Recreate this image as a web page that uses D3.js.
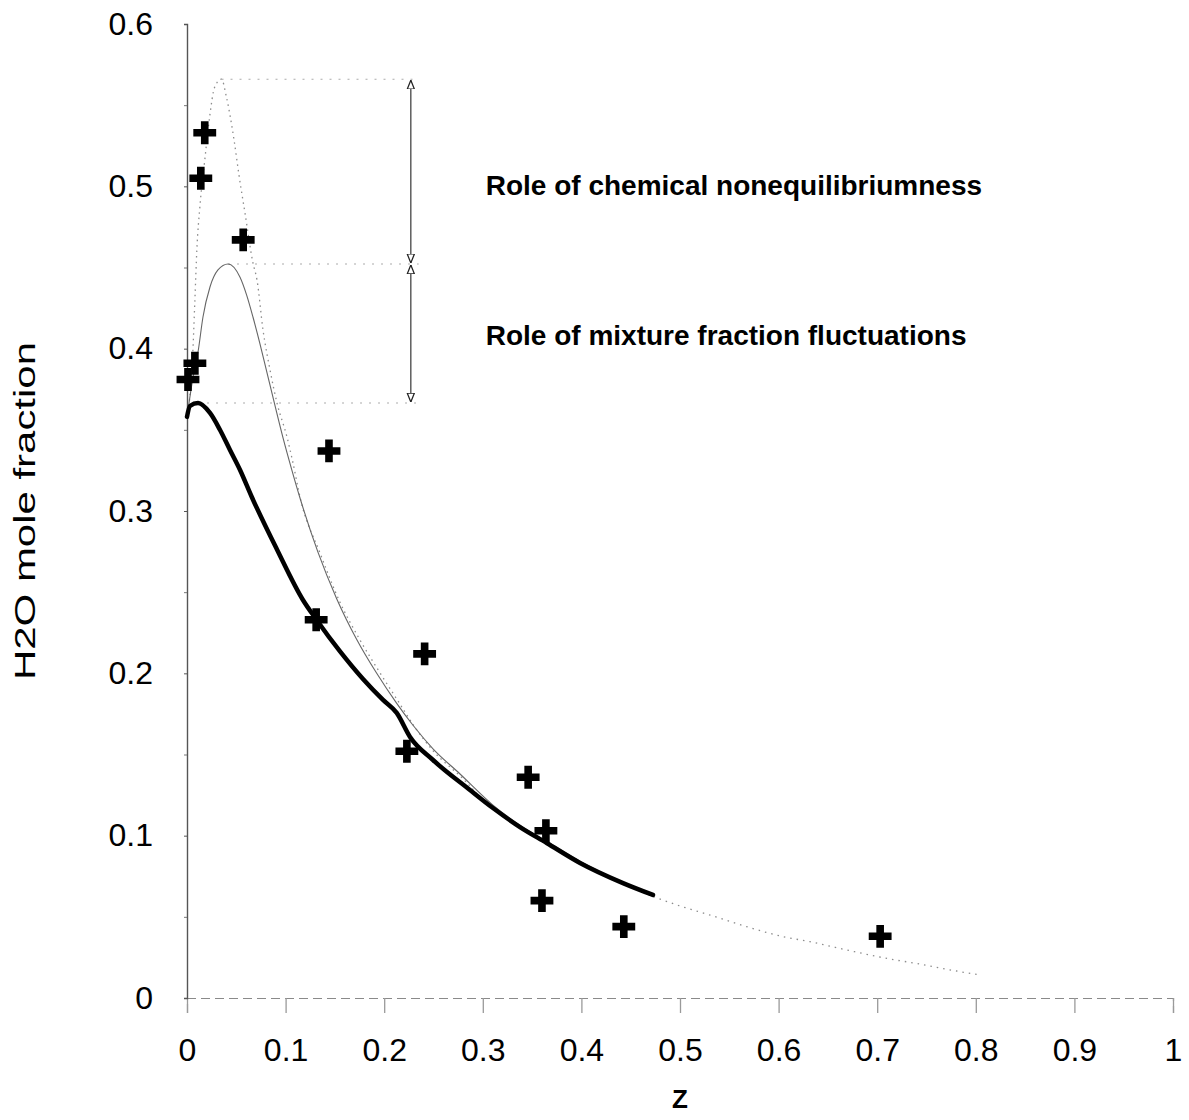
<!DOCTYPE html>
<html>
<head>
<meta charset="utf-8">
<script src="https://cdn.jsdelivr.net/npm/d3@7"></script>
<style>
  body { margin: 0; background: #fff; }
  svg { display: block; }
  text { font-family: "Liberation Sans", Arial, Helvetica, sans-serif; fill: #000; }
</style>
</head>
<body>
<svg id="chart" width="1189" height="1120"></svg>
<script>
// Measured H2O mole fraction against mixture fraction Z
const measZ = [0.018, 0.014, 0.057, 0.008, 0.001, 0.144, 0.131, 0.241, 0.223, 0.346, 0.364, 0.360, 0.443, 0.703];
const measX = [0.533, 0.505, 0.467, 0.391, 0.381, 0.337, 0.233, 0.212, 0.152, 0.136, 0.103, 0.060, 0.044, 0.038];

// Complete-reaction limit (dotted envelope)
const completeZ = [0, 0.006, 0.008, 0.010, 0.013, 0.018, 0.023, 0.028, 0.035, 0.040, 0.0477, 0.0527, 0.0588, 0.0669, 0.071, 0.0771, 0.0842, 0.0913, 0.1014, 0.1075, 0.1146, 0.135, 0.155, 0.175, 0.195, 0.215, 0.232, 0.250, 0.280, 0.300];
const completeX = [0.358, 0.399, 0.430, 0.461, 0.487, 0.516, 0.543, 0.561, 0.566, 0.555, 0.5286, 0.507, 0.4836, 0.4528, 0.4423, 0.4115, 0.3869, 0.3665, 0.3456, 0.3296, 0.3086, 0.274, 0.244, 0.221, 0.201, 0.182, 0.166, 0.152, 0.135, 0.122];

// Laminar equilibrium curve (thin line, dotted beyond the PDF curve)
const equilZ = [0, 0.006, 0.0115, 0.0162, 0.0233, 0.0314, 0.0416, 0.0538, 0.0605, 0.0669, 0.074, 0.0808, 0.0892, 0.0974, 0.1062, 0.1146, 0.1329, 0.1518, 0.172, 0.1924, 0.2127, 0.2292, 0.2495, 0.2769, 0.31, 0.34, 0.365, 0.40, 0.44, 0.473, 0.50, 0.5304, 0.5677, 0.6045, 0.6318, 0.669, 0.713, 0.7434, 0.7617, 0.804];
const equilX = [0.358, 0.382, 0.3992, 0.4195, 0.438, 0.4485, 0.4522, 0.4440, 0.4330, 0.4195, 0.4030, 0.3860, 0.3650, 0.3450, 0.3255, 0.3080, 0.2745, 0.2460, 0.2210, 0.2000, 0.1815, 0.1680, 0.1535, 0.1380, 0.1190, 0.1055, 0.0965, 0.0838, 0.0715, 0.0624, 0.0567, 0.0511, 0.0439, 0.0378, 0.0347, 0.0296, 0.0240, 0.0209, 0.0187, 0.0142];
const equilSolidEnd = 0.473;

// PDF-averaged equilibrium curve (thick line)
const pdfZ = [0, 0.003, 0.0112, 0.0233, 0.0335, 0.0436, 0.0538, 0.0656, 0.091, 0.1176, 0.1315, 0.1552, 0.1785, 0.1988, 0.2127, 0.2262, 0.2495, 0.287, 0.3103, 0.3377, 0.3648, 0.3986, 0.4422, 0.4726];
const pdfX = [0.358, 0.3647, 0.3665, 0.3604, 0.3499, 0.3376, 0.3253, 0.3088, 0.2766, 0.2452, 0.2329, 0.2135, 0.1965, 0.1836, 0.1756, 0.1608, 0.1466, 0.1281, 0.1170, 0.1053, 0.0955, 0.0832, 0.0708, 0.0635];

// Axis ticks
const xTicks = [0, 0.1, 0.2, 0.3, 0.4, 0.5, 0.6, 0.7, 0.8, 0.9, 1];
const xTickLabels = ["0", "0.1", "0.2", "0.3", "0.4", "0.5", "0.6", "0.7", "0.8", "0.9", "1"];
const yTicks = [0, 0.1, 0.2, 0.3, 0.4, 0.5, 0.6];
const yTickLabels = ["0", "0.1", "0.2", "0.3", "0.4", "0.5", "0.6"];
const yMinorTicks = [0.05, 0.15, 0.25, 0.35, 0.45, 0.55];

// Dimension arrows comparing the curve peaks
const barZ = 0.227;
const noteLines = ["Role of chemical nonequilibriumness", "Role of mixture fraction fluctuations"];
const xTitle = "Z";
const yTitle = "H2O mole fraction";

const svg = d3.select("#chart");
const x = d3.scaleLinear().domain([0, 1]).range([187, 1173]);
const y = d3.scaleLinear().domain([0, 0.6]).range([998, 24]);

const zip = (zs, vs) => zs.map((z, i) => ({ z, v: vs[i] }));
const measured = zip(measZ, measX);
const complete = zip(completeZ, completeX);
const equil = zip(equilZ, equilX);
const pdf = zip(pdfZ, pdfX);

const line = d3.line().x(d => x(d.z)).y(d => y(d.v)).curve(d3.curveMonotoneX);

// Arrowhead markers
const defs = svg.append("defs");
defs.append("marker")
  .attr("id", "head")
  .attr("viewBox", "0 0 10 10")
  .attr("refX", 10).attr("refY", 5)
  .attr("markerWidth", 9).attr("markerHeight", 9)
  .attr("markerUnits", "userSpaceOnUse")
  .attr("orient", "auto-start-reverse")
  .append("path")
  .attr("d", "M0,1 L10,5 L0,9 Z")
  .attr("fill", "#fff")
  .attr("stroke", "#222")
  .attr("stroke-width", 1.4);

// X axis
const xAxis = svg.append("g")
  .attr("transform", `translate(0,${y(0)})`)
  .call(d3.axisBottom(x).tickValues(xTicks).tickFormat((d, i) => xTickLabels[i]).tickSize(15).tickPadding(25));
xAxis.select(".domain").attr("stroke", "#8a8a8a").attr("stroke-width", 1.2).attr("stroke-dasharray", "9 5");
xAxis.selectAll(".tick line").attr("stroke", "#9a9a9a").attr("stroke-width", 1.3);
xAxis.selectAll(".tick text").attr("font-size", 32).attr("fill", "#000")
  .attr("font-family", "'Liberation Sans', Arial, sans-serif");

// Y axis
const yAxis = svg.append("g")
  .attr("transform", `translate(${x(0)},0)`)
  .call(d3.axisLeft(y).tickValues(yTicks).tickFormat((d, i) => yTickLabels[i]).tickSize(3).tickPadding(31));
yAxis.select(".domain").attr("stroke", "#555").attr("stroke-width", 1.4);
yAxis.selectAll(".tick line").attr("stroke", "#555");
yAxis.selectAll(".tick text").attr("font-size", 32).attr("fill", "#000")
  .attr("font-family", "'Liberation Sans', Arial, sans-serif");

svg.append("g")
  .attr("transform", `translate(${x(0)},0)`)
  .call(d3.axisLeft(y).tickValues(yMinorTicks).tickFormat("").tickSize(3))
  .call(g => g.select(".domain").remove())
  .selectAll(".tick line").attr("stroke", "#777");

// Axis titles
svg.append("text")
  .attr("x", x(0.5)).attr("y", 1108)
  .attr("text-anchor", "middle")
  .attr("font-size", 26).attr("font-weight", "bold")
  .text(xTitle);

svg.append("text")
  .attr("transform", `translate(35,${y(0.3)}) rotate(-90)`)
  .attr("text-anchor", "middle")
  .attr("font-size", 30)
  .attr("textLength", 338)
  .attr("lengthAdjust", "spacingAndGlyphs")
  .text(yTitle);

// Peak levels of the three curves
const peakOf = arr => arr.reduce((a, b) => (b.v > a.v ? b : a));
const peaks = [peakOf(complete), peakOf(equil), peakOf(pdf)];

// Faint guides from each peak across to the dimension arrows
svg.append("g").selectAll("line")
  .data(peaks)
  .join("line")
  .attr("x1", d => x(d.z)).attr("x2", x(barZ + 0.008))
  .attr("y1", d => y(d.v)).attr("y2", d => y(d.v))
  .attr("stroke", "#aaa")
  .attr("stroke-width", 1.1)
  .attr("stroke-dasharray", "2 7");

// Double-headed arrows between consecutive peaks
svg.append("g").selectAll("line")
  .data(d3.pairs(peaks))
  .join("line")
  .attr("x1", x(barZ)).attr("x2", x(barZ))
  .attr("y1", d => y(d[0].v) + 1).attr("y2", d => y(d[1].v) - 1)
  .attr("stroke", "#444")
  .attr("stroke-width", 1.3)
  .attr("marker-start", "url(#head)")
  .attr("marker-end", "url(#head)");

// Complete-reaction envelope
svg.append("path")
  .datum(complete)
  .attr("fill", "none")
  .attr("stroke", "#8c8c8c")
  .attr("stroke-width", 1.3)
  .attr("stroke-dasharray", "1.5 4")
  .attr("d", line);

// Laminar equilibrium
svg.append("path")
  .datum(equil.filter(d => d.z <= equilSolidEnd))
  .attr("fill", "none")
  .attr("stroke", "#666")
  .attr("stroke-width", 1.1)
  .attr("d", line);

svg.append("path")
  .datum(equil.filter(d => d.z >= equilSolidEnd))
  .attr("fill", "none")
  .attr("stroke", "#8c8c8c")
  .attr("stroke-width", 1.3)
  .attr("stroke-dasharray", "1.5 5")
  .attr("d", line);

// PDF-averaged equilibrium
svg.append("path")
  .datum(pdf)
  .attr("fill", "none")
  .attr("stroke", "#000")
  .attr("stroke-width", 4.5)
  .attr("stroke-linejoin", "round")
  .attr("stroke-linecap", "round")
  .attr("d", line);

// Measurements
svg.append("g").selectAll("path")
  .data(measured)
  .join("path")
  .attr("transform", d => `translate(${x(d.z)},${y(d.v)})`)
  .attr("d", d3.symbol().type(d3.symbolCross).size(290))
  .attr("fill", "#000");

// Annotations
svg.append("g").selectAll("text")
  .data(noteLines)
  .join("text")
  .attr("x", x(0.303))
  .attr("y", (d, i) => [195, 345][i])
  .attr("font-size", 28)
  .attr("font-weight", "bold")
  .text(d => d);
</script>
</body>
</html>
